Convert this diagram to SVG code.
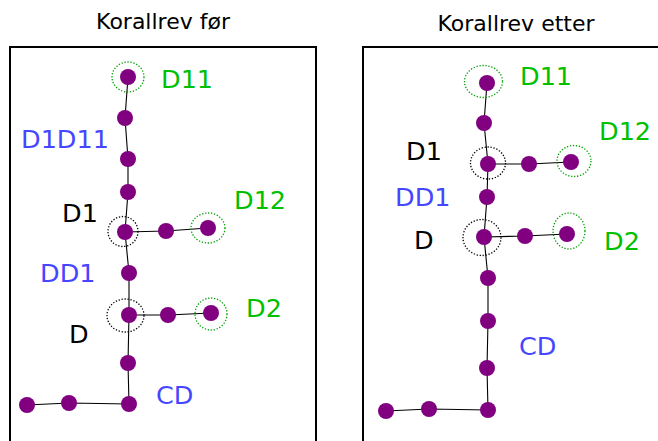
<svg xmlns="http://www.w3.org/2000/svg" width="658" height="441" viewBox="0 0 658 441">
<style>
text{font-family:"DejaVu Sans",sans-serif}
.t{font-size:22px;fill:#000;text-anchor:middle}
.l{font-size:25.5px}
.g{fill:#00c000}.b{fill:#4646ff}.k{fill:#000}
.n{fill:#800080}
.e{stroke:#000;stroke-width:1.1;fill:none}
.box{fill:none;stroke:#000;stroke-width:2}
.cg{fill:none;stroke:#00a000;stroke-width:1.3;stroke-dasharray:1.3 1.7}
.ck{fill:none;stroke:#000;stroke-width:1.3;stroke-dasharray:1.3 1.7}
</style>
<rect width="658" height="441" fill="#fff"/>
<g id="frames">
<text class="t" x="163" y="29">Korallrev før</text>
<text class="t" x="516" y="31">Korallrev etter</text>
<path class="box" d="M10,442V47H316V442"/>
<path class="box" d="M363,442V47H660"/>
</g>
<g id="connectors">
<polyline class="e" points="128,77 125,118 128,159 128,192 125,232 129,273 129,315 128,363 129,404"/>
<polyline class="e" points="125,232 166,231 208,228"/>
<polyline class="e" points="129,315 168,315 211,313"/>
<polyline class="e" points="129,404 69,403 27,405"/>
<polyline class="e" points="487,83 484,123 488,164 487,197 484,237 488,278 488,321 487,368 488,410"/>
<polyline class="e" points="488,164 529,164 571,162"/>
<polyline class="e" points="484,237 525,236 567,234"/>
<polyline class="e" points="488,410 429,409 386,411"/>
</g>
<g id="left-nodes">
<g id="L-D11"><ellipse class="cg" cx="128" cy="77" rx="16" ry="15"/><circle class="n" cx="128" cy="77" r="8"/></g>
<g id="L-n1"><circle class="n" cx="125" cy="118" r="8"/></g>
<g id="L-n2"><circle class="n" cx="128" cy="159" r="8"/></g>
<g id="L-n3"><circle class="n" cx="128" cy="192" r="8"/></g>
<g id="L-D1"><ellipse class="ck" cx="123" cy="231.5" rx="15" ry="15"/><circle class="n" cx="125" cy="232" r="8"/></g>
<g id="L-n4"><circle class="n" cx="166" cy="231" r="8"/></g>
<g id="L-D12"><ellipse class="cg" cx="208" cy="228" rx="17" ry="15"/><circle class="n" cx="208" cy="228" r="8"/></g>
<g id="L-DD1"><circle class="n" cx="129" cy="273" r="8"/></g>
<g id="L-D"><ellipse class="ck" cx="125.5" cy="315.5" rx="18.5" ry="16.5"/><circle class="n" cx="129" cy="315" r="8"/></g>
<g id="L-n5"><circle class="n" cx="168" cy="315" r="8"/></g>
<g id="L-D2"><ellipse class="cg" cx="211" cy="314" rx="16" ry="16"/><circle class="n" cx="211" cy="313" r="8"/></g>
<g id="L-n6"><circle class="n" cx="128" cy="363" r="8"/></g>
<g id="L-CD"><circle class="n" cx="129" cy="404" r="8"/></g>
<g id="L-n7"><circle class="n" cx="69" cy="403" r="8"/></g>
<g id="L-n8"><circle class="n" cx="27" cy="405" r="8"/></g>
<text class="l g" x="161" y="88">D11</text>
<text class="l b" x="21" y="148">D1D11</text>
<text class="l g" x="234" y="209">D12</text>
<text class="l k" x="62" y="222">D1</text>
<text class="l b" x="40" y="282">DD1</text>
<text class="l g" x="246" y="317">D2</text>
<text class="l k" x="69" y="343">D</text>
<text class="l b" x="156" y="404">CD</text>
</g>
<g id="right-nodes">
<g id="R-D11"><ellipse class="cg" cx="483.5" cy="81.5" rx="19" ry="16"/><circle class="n" cx="487" cy="83" r="8"/></g>
<g id="R-n1"><circle class="n" cx="484" cy="123" r="8"/></g>
<g id="R-D1"><ellipse class="ck" cx="488" cy="163" rx="17.5" ry="16"/><circle class="n" cx="488" cy="164" r="8"/></g>
<g id="R-n2"><circle class="n" cx="529" cy="164" r="8"/></g>
<g id="R-D12"><ellipse class="cg" cx="574" cy="161" rx="17" ry="15.5"/><circle class="n" cx="571" cy="162" r="8"/></g>
<g id="R-DD1"><circle class="n" cx="487" cy="197" r="8"/></g>
<g id="R-D"><ellipse class="ck" cx="482" cy="237.5" rx="19" ry="18"/><circle class="n" cx="484" cy="237" r="8"/></g>
<g id="R-n3"><circle class="n" cx="525" cy="236" r="8"/></g>
<g id="R-D2"><ellipse class="cg" cx="569" cy="231" rx="16" ry="18"/><circle class="n" cx="567" cy="234" r="8"/></g>
<g id="R-n4"><circle class="n" cx="488" cy="278" r="8"/></g>
<g id="R-n5"><circle class="n" cx="488" cy="321" r="8"/></g>
<g id="R-n6"><circle class="n" cx="487" cy="368" r="8"/></g>
<g id="R-CD"><circle class="n" cx="488" cy="410" r="8"/></g>
<g id="R-n7"><circle class="n" cx="429" cy="409" r="8"/></g>
<g id="R-n8"><circle class="n" cx="386" cy="411" r="8"/></g>
<text class="l g" x="520" y="85">D11</text>
<text class="l g" x="599" y="140">D12</text>
<text class="l k" x="406" y="160">D1</text>
<text class="l b" x="395" y="206">DD1</text>
<text class="l k" x="414" y="249">D</text>
<text class="l g" x="604" y="250">D2</text>
<text class="l b" x="519" y="355">CD</text>
</g>
</svg>
